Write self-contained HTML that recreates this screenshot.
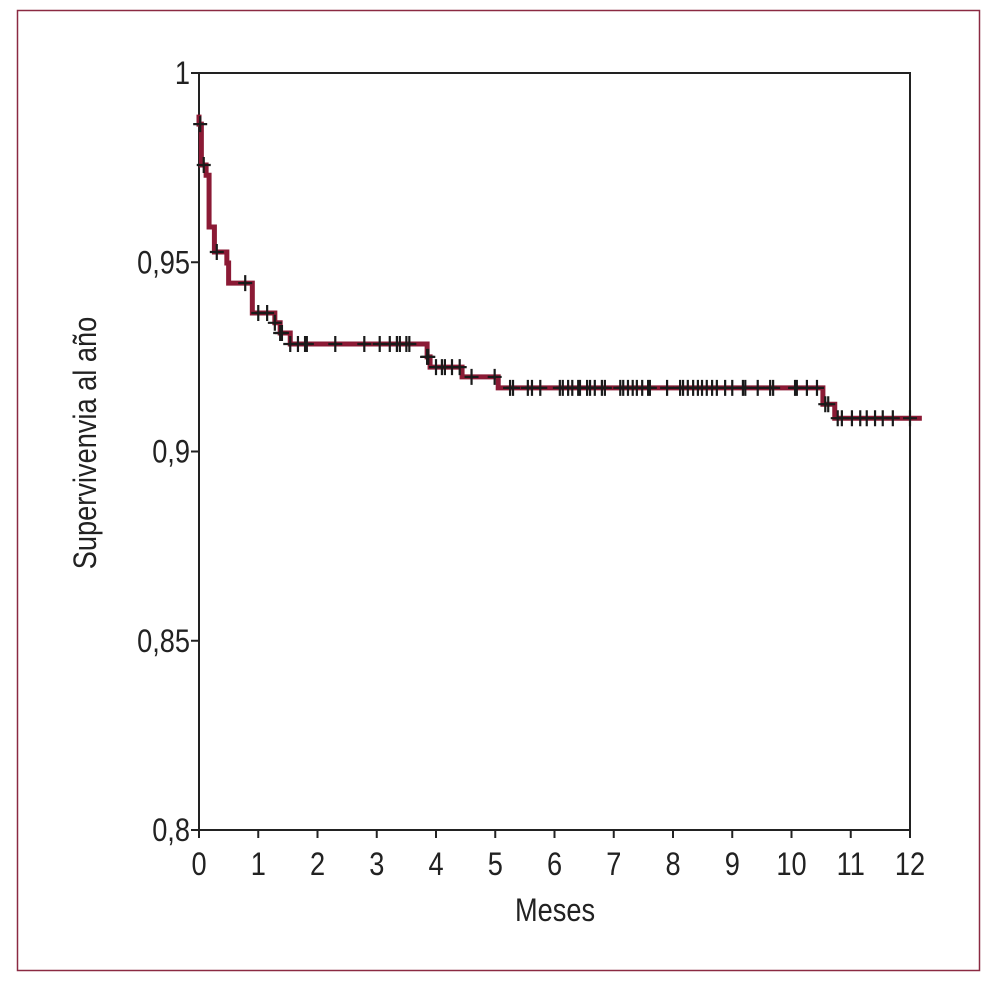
<!DOCTYPE html>
<html><head><meta charset="utf-8"><style>
html,body{margin:0;padding:0;background:#fff;}
svg{display:block;font-family:"Liberation Sans Narrow","Liberation Sans",sans-serif;}
</style></head><body>
<svg id="chart" width="1000" height="987" viewBox="0 0 1000 987">
<rect x="17.5" y="10.5" width="962" height="960" fill="none" stroke="#8b2a42" stroke-width="1.5"/>
<g id="axes"></g>
<g id="curve"></g>
<g id="censors"></g>
<text x="0" y="0" font-size="32" text-anchor="middle" transform="translate(555,921) scale(0.85,1)" fill="#222">Meses</text>
<text x="0" y="0" font-size="32" text-anchor="middle" fill="#222" transform="translate(96,443) rotate(-90) scale(0.85,1)">Supervivenvia al año</text>
</svg>
<script>
const xTicks = [0,1,2,3,4,5,6,7,8,9,10,11,12];
const yTicks = [0.8,0.85,0.9,0.95,1];
const yTickLabels = ["0,8","0,85","0,9","0,95","1"];
const stepTimes = [0,0.04,0.12,0.17,0.26,0.47,0.5,0.9,1.28,1.37,1.54,3.85,3.9,4.44,5.05,10.53,10.73];
const stepSurv = [0.9865,0.9757,0.973,0.9593,0.9527,0.9498,0.9445,0.9366,0.934,0.9313,0.9284,0.925,0.9223,0.9197,0.9168,0.9125,0.9088];
const endTime = 12.2;
const censorTimes = [0.02,0.08,0.3,0.78,1.0,1.15,1.28,1.37,1.4,1.54,1.67,1.79,1.82,2.3,2.79,3.05,3.22,3.34,3.39,3.5,3.55,3.85,3.87,4.0,4.1,4.15,4.27,4.4,4.6,4.99,
5.25,5.30,5.55,5.62,5.76,6.09,6.14,6.23,6.30,6.40,6.43,6.55,6.60,6.68,6.80,6.85,7.11,7.16,7.24,7.32,7.39,7.48,7.58,7.61,7.90,8.12,8.17,8.25,8.34,8.42,8.49,8.57,8.66,8.74,8.88,9.00,9.18,9.22,9.43,9.64,9.69,10.06,10.09,10.26,10.43,
10.57,10.62,10.78,10.85,11.02,11.16,11.27,11.41,11.54,11.71,12.0];

const X0=199, X1=910, Y0=830, Y1=73;
function xs(t){return X0+(t/12)*(X1-X0);}
function ys(v){return Y0-((v-0.8)/0.2)*(Y0-Y1);}
function survAt(t){let s=stepSurv[0];for(let i=0;i<stepTimes.length;i++){if(stepTimes[i]<=t+1e-9)s=stepSurv[i];}return s;}
const NS="http://www.w3.org/2000/svg";
function mk(tag,attrs,parent){const e=document.createElementNS(NS,tag);for(const k in attrs)e.setAttribute(k,attrs[k]);parent.appendChild(e);return e;}

const axes=document.getElementById('axes');
const box=mk('path',{d:`M${X0},${Y0} L${X0},${Y1} L${X1},${Y1} L${X1},${Y0} L${X0},${Y0}`,fill:'none',stroke:'#222','stroke-width':2},axes);


xTicks.forEach(t=>{
  const l=mk('line',{x1:xs(t),x2:xs(t),y1:Y0,y2:Y0+8,stroke:'#222','stroke-width':2},axes);
  
  
  const tx=mk('text',{x:0,y:0,'font-size':32,'text-anchor':'middle',fill:'#222',transform:`translate(${xs(t)},875) scale(0.85,1)`},axes);
  tx.textContent=String(t);
  
  
});
yTicks.forEach((v,i)=>{
  const l=mk('line',{x1:X0-8,x2:X0,y1:ys(v),y2:ys(v),stroke:'#222','stroke-width':2},axes);
  
  
  const tx=mk('text',{x:0,y:0,'font-size':32,'text-anchor':'end',fill:'#222',transform:`translate(${X0-9},${ys(v)+11}) scale(0.85,1)`},axes);
  tx.textContent=yTickLabels[i];
  
  
});

let d=`M${xs(stepTimes[0])},${ys(0.989)}`;
d+=` V${ys(stepSurv[0])}`;
for(let i=1;i<stepTimes.length;i++){d+=` H${xs(stepTimes[i])} V${ys(stepSurv[i])}`;}
d+=` H${xs(endTime)}`;
const curve=mk('path',{d:d,fill:'none',stroke:'#8b1a35','stroke-width':5},document.getElementById('curve'));



const cg=document.getElementById('censors');
censorTimes.forEach(t=>{
  const cx=xs(t), cy=ys(survAt(t));
  const p=mk('path',{d:`M${cx-7},${cy} H${cx+7} M${cx},${cy-8} V${cy+8}`,stroke:'#1a1a1a','stroke-width':2.2,fill:'none'},cg);
  
  
});
</script>
</body></html>
